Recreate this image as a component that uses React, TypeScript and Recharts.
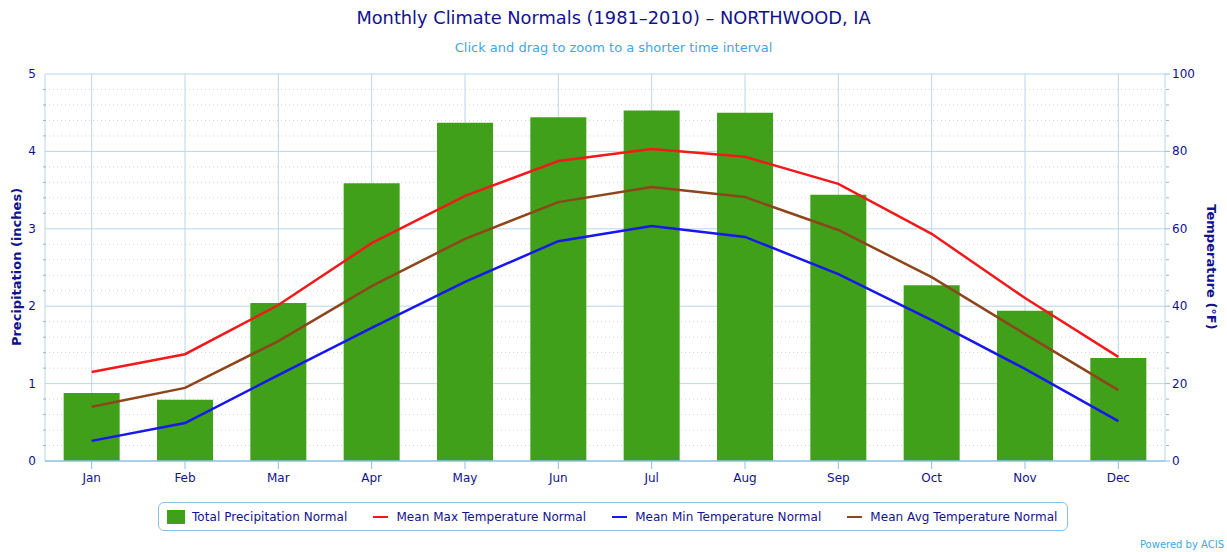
import { Bar, CartesianGrid, ComposedChart, Line, XAxis, YAxis } from "recharts";

const months = ["Jan", "Feb", "Mar", "Apr", "May", "Jun", "Jul", "Aug", "Sep", "Oct", "Nov", "Dec"];
const precipNormal = [0.88, 0.79, 2.04, 3.59, 4.37, 4.44, 4.53, 4.5, 3.44, 2.27, 1.94, 1.33];
const maxTempNormal = [23.0, 27.6, 40.3, 56.3, 68.5, 77.5, 80.6, 78.6, 71.6, 58.7, 42.1, 26.9];
const minTempNormal = [5.2, 9.8, 22.2, 34.4, 46.3, 56.8, 60.7, 57.9, 48.3, 36.4, 23.8, 10.3];
const avgTempNormal = [14.0, 18.9, 31.0, 45.2, 57.4, 66.9, 70.8, 68.2, 59.7, 47.5, 32.8, 18.3];

// every 0.2" (minor), labels only on whole inches
const precipTicks = [0, 0.2, 0.4, 0.6, 0.8, 1, 1.2, 1.4, 1.6, 1.8, 2, 2.2, 2.4, 2.6, 2.8, 3, 3.2, 3.4, 3.6, 3.8, 4, 4.2, 4.4, 4.6, 4.8, 5];
const tempTicks = [0, 4, 8, 12, 16, 20, 24, 28, 32, 36, 40, 44, 48, 52, 56, 60, 64, 68, 72, 76, 80, 84, 88, 92, 96, 100];

const NAVY = "#12128c";
const SKY = "#3fa7df";
const GRID = "#b9d6ec";
const AXIS = "#8dbfe3";
const GREEN = "#40a01a";
const RED = "#f2191b";
const BLUE = "#1717ee";
const BROWN = "#8e451b";
const FONT = "'DejaVu Sans', Verdana, sans-serif";

const data = months.map((month, i) => ({
  month,
  precip: precipNormal[i],
  maxT: maxTempNormal[i],
  minT: minTempNormal[i],
  avgT: avgTempNormal[i],
}));

const legendItems = [
  { name: "Total Precipitation Normal", color: GREEN, kind: "bar" },
  { name: "Mean Max Temperature Normal", color: RED, kind: "line" },
  { name: "Mean Min Temperature Normal", color: BLUE, kind: "line" },
  { name: "Mean Avg Temperature Normal", color: BROWN, kind: "line" },
];

const isMajor = (v: number, step: number) => Math.abs(v / step - Math.round(v / step)) < 1e-6;

function LeftTick(props: any) {
  const { x, y, payload } = props;
  const v = payload.value;
  if (isMajor(v, 1)) {
    return (
      <text x={x} y={y} dy={4} textAnchor="end" fill={NAVY} fontSize={12} fontFamily={FONT}>
        {Math.round(v)}
      </text>
    );
  }
  return <line x1={x + 7} x2={x + 10} y1={y} y2={y} stroke="#b0b0b0" strokeWidth={1} />;
}

function RightTick(props: any) {
  const { x, y, payload } = props;
  const v = payload.value;
  if (isMajor(v, 20)) {
    return (
      <g>
        <line x1={x - 7} x2={x - 2} y1={y} y2={y} stroke={AXIS} strokeWidth={1} />
        <text x={x} y={y} dy={4} textAnchor="start" fill={NAVY} fontSize={12} fontFamily={FONT}>
          {Math.round(v)}
        </text>
      </g>
    );
  }
  return <line x1={x - 6} x2={x - 3} y1={y} y2={y} stroke="#b0b0b0" strokeWidth={1} />;
}

function HGridLine(props: any) {
  const { x1, x2, y1, y2, index } = props;
  if (index === 0) return <g />;
  return index % 5 === 0 ? (
    <line x1={x1} x2={x2} y1={y1} y2={y2} stroke={GRID} strokeWidth={1} />
  ) : (
    <line x1={x1} x2={x2} y1={y1} y2={y2} stroke="#d2d2d2" strokeWidth={1} strokeDasharray="1 3" />
  );
}

function VGridLine(props: any) {
  const { x1, x2, y1, y2 } = props;
  return <line x1={x1} x2={x2} y1={y1} y2={y2} stroke={GRID} strokeWidth={1} />;
}

export default function App() {
  return (
    <div style={{ position: "absolute", left: 0, top: 0, width: 1227, height: 552, background: "#fff", fontFamily: FONT }}>
      <div style={{ position: "absolute", top: 7, width: "100%", textAlign: "center", color: NAVY, fontSize: 17.8 }}>
        Monthly Climate Normals (1981–2010) – NORTHWOOD, IA
      </div>
      <div style={{ position: "absolute", top: 40, width: "100%", textAlign: "center", color: SKY, fontSize: 13 }}>
        Click and drag to zoom to a shorter time interval
      </div>

      <ComposedChart
        width={1227}
        height={552}
        data={data}
        margin={{ top: 74, right: 0, left: 0, bottom: 61 }}
        barCategoryGap="20%"
      >
        <CartesianGrid horizontal={HGridLine} vertical={VGridLine} />
        <XAxis
          dataKey="month"
          height={30}
          axisLine={{ stroke: AXIS, strokeWidth: 1.5 }}
          tickLine={{ stroke: AXIS }}
          tickSize={8}
          tickMargin={4}
          tick={{ fill: NAVY, fontSize: 12, fontFamily: FONT }}
        />
        <YAxis
          width={45}
          domain={[0, 5]}
          ticks={precipTicks}
          interval={0}
          axisLine={false}
          tickLine={false}
          tickSize={0}
          tickMargin={9}
          tick={<LeftTick />}
        />
        <YAxis
          yAxisId="right"
          orientation="right"
          width={62}
          domain={[0, 100]}
          ticks={tempTicks}
          interval={0}
          axisLine={false}
          tickLine={false}
          tickSize={0}
          tickMargin={7}
          tick={<RightTick />}
        />
        <Bar dataKey="precip" fill={GREEN} isAnimationActive={false} />
        <Line yAxisId="right" dataKey="maxT" stroke={RED} strokeWidth={2.5} dot={false} isAnimationActive={false} />
        <Line yAxisId="right" dataKey="minT" stroke={BLUE} strokeWidth={2.5} dot={false} isAnimationActive={false} />
        <Line yAxisId="right" dataKey="avgT" stroke={BROWN} strokeWidth={2.5} dot={false} isAnimationActive={false} />
      </ComposedChart>

      <div
        style={{
          position: "absolute",
          left: 16,
          top: 267,
          transform: "translate(-50%, -50%) rotate(-90deg)",
          whiteSpace: "nowrap",
          color: NAVY,
          fontWeight: "bold",
          fontSize: 13,
        }}
      >
        Precipitation (inches)
      </div>
      <div
        style={{
          position: "absolute",
          left: 1211,
          top: 267,
          transform: "translate(-50%, -50%) rotate(90deg)",
          whiteSpace: "nowrap",
          color: NAVY,
          fontWeight: "bold",
          fontSize: 13,
        }}
      >
        Temperature (°F)
      </div>

      <div
        style={{
          position: "absolute",
          left: 158,
          top: 502,
          width: 900,
          height: 27,
          border: `1px solid ${AXIS}`,
          borderRadius: 6,
          display: "flex",
          alignItems: "center",
          paddingLeft: 8,
          boxSizing: "content-box",
          color: NAVY,
          fontSize: 12,
          letterSpacing: 0.05,
          whiteSpace: "nowrap",
        }}
      >
        {legendItems.map((item) => (
          <div key={item.name} style={{ display: "flex", alignItems: "center", marginRight: 26, flexShrink: 0 }}>
            {item.kind === "bar" ? (
              <span style={{ width: 18, height: 14, background: item.color, marginRight: 7, display: "inline-block" }} />
            ) : (
              <span style={{ width: 15, height: 2, background: item.color, marginRight: 8, display: "inline-block" }} />
            )}
            <span style={{ whiteSpace: "nowrap" }}>{item.name}</span>
          </div>
        ))}
      </div>

      <div style={{ position: "absolute", right: 3, top: 539, color: SKY, fontSize: 10 }}>Powered by ACIS</div>
    </div>
  );
}
